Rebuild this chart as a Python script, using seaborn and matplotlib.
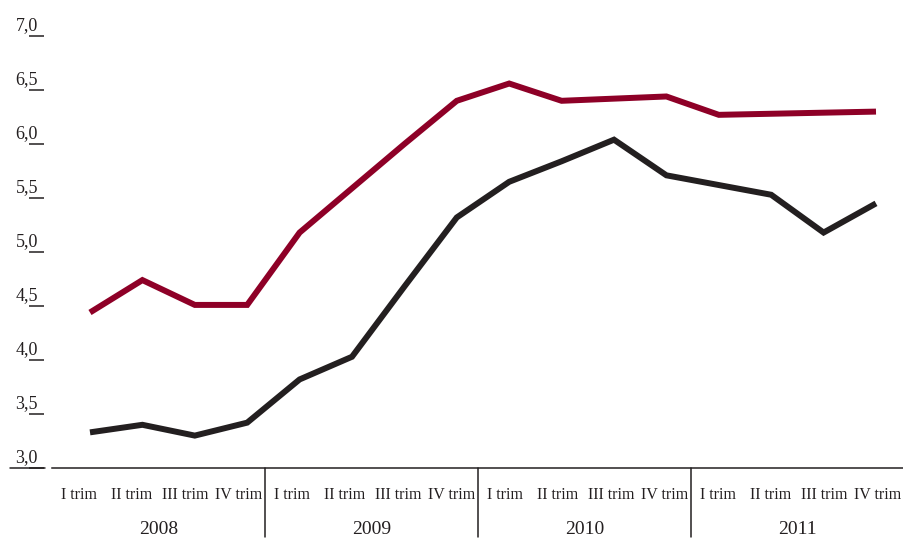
import pandas as pd
import seaborn as sns
import matplotlib
matplotlib.use('Agg')
import matplotlib.pyplot as plt

# data
years = ['2008', '2009', '2010', '2011']
quarters = ['I trim', 'II trim', 'III trim', 'IV trim']
red_values = [4.44, 4.74, 4.51, 4.51, 5.18, 5.59, 6.00, 6.40,
              6.56, 6.40, 6.42, 6.44, 6.27, 6.28, 6.29, 6.30]
black_values = [3.33, 3.40, 3.30, 3.42, 3.82, 4.03, 4.68, 5.32,
                5.65, 5.84, 6.04, 5.71, 5.62, 5.53, 5.18, 5.45]
y_ticks = [3.0, 3.5, 4.0, 4.5, 5.0, 5.5, 6.0, 6.5, 7.0]
y_labels = ['3,0', '3,5', '4,0', '4,5', '5,0', '5,5', '6,0', '6,5', '7,0']

n = len(red_values)
df = pd.DataFrame({
    'idx': list(range(n)) * 2,
    'value': red_values + black_values,
    'serie': ['rossa'] * n + ['nera'] * n,
})

sns.set_style('white')
plt.rcParams['font.family'] = ['Liberation Serif', 'DejaVu Serif']

ink = '#231F20'
fig = plt.figure(figsize=(9.04, 5.42), dpi=100)
ax = fig.add_axes([52 / 904, 74 / 542, 852 / 904, 432 / 542])

sns.lineplot(data=df, x='idx', y='value', hue='serie',
             palette={'rossa': '#8E0027', 'nera': ink},
             linewidth=4.3, legend=False, ax=ax,
             solid_capstyle='butt', solid_joinstyle='miter')

ax.set_xlim(-38 / 52.4, 15 + 28 / 52.4)
ax.set_ylim(3.0, 7.0)

# spines: only the bottom line
for s in ['top', 'right']:
    ax.spines[s].set_visible(False)
ax.spines['left'].set_position(('outward', 5.8))
ax.spines['left'].set_visible(False)
ax.spines['bottom'].set_color(ink)
ax.spines['bottom'].set_linewidth(1.1)

# y ticks: short dashes with the labels sitting above them
ax.set_yticks(y_ticks)
ax.tick_params(axis='y', direction='out', length=10.8, width=1.1,
               color=ink, labelleft=False, left=True)
for v, lab in zip(y_ticks, y_labels):
    ax.annotate(lab, xy=(-14 / 852, v), xycoords=('axes fraction', 'data'),
                xytext=(0, 4.3), textcoords='offset points',
                ha='right', va='baseline', fontsize=13, color=ink)
ax.plot([-42 / 852, -7 / 852], [3.0, 3.0], transform=ax.get_yaxis_transform(),
        color=ink, lw=1.1, clip_on=False)

# x axis: quarter labels, year labels and separators
ax.set_xticks([])
ax.set_xlabel('')
ax.set_ylabel('')
n_q = len(quarters)
n_cells = len(years) * n_q
for gi, yr in enumerate(years):
    for qi, q in enumerate(quarters):
        pos = (gi * n_q + qi + 0.5) / n_cells
        ax.text(pos, -27 / 432, q, transform=ax.transAxes, ha='center',
                va='center', fontsize=11.5, color=ink)
    ax.text((gi + 0.5) / len(years), -62 / 432, yr, transform=ax.transAxes,
            ha='center', va='center', fontsize=14, color=ink)
    if gi > 0:
        ax.plot([gi / len(years)] * 2, [0, -69 / 432], transform=ax.transAxes,
                color=ink, lw=1.1, clip_on=False)

plt.savefig('out.png', dpi=100)
